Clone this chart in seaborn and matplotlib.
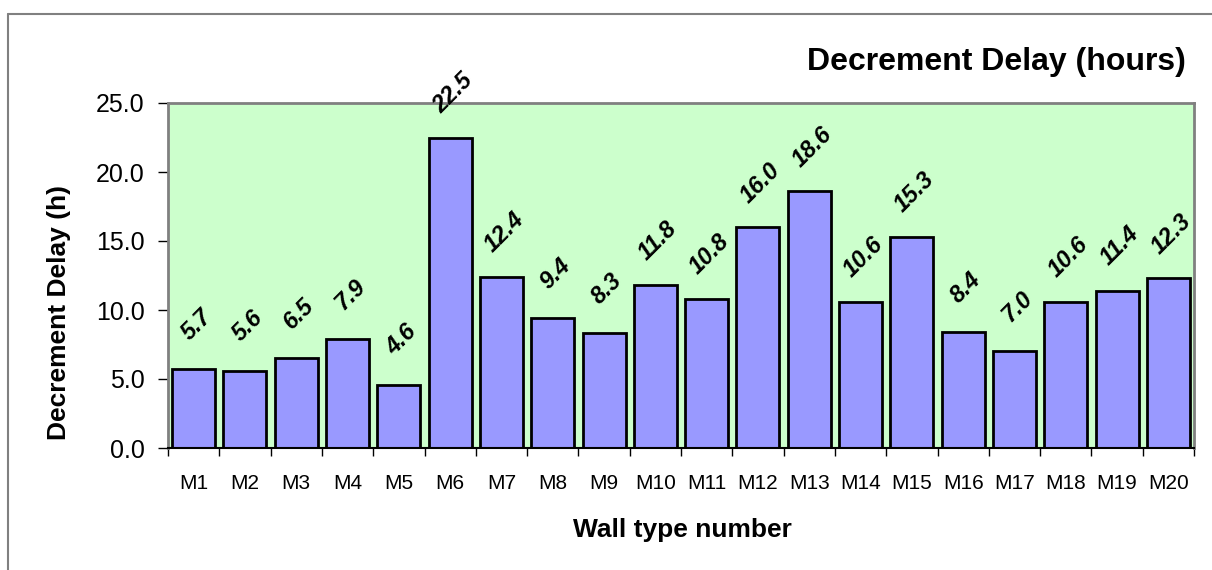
#decrement delay per wall type, bar chart with value labels

import pandas as pd
import seaborn as sns
import numpy as np
import matplotlib.pyplot as plt
from matplotlib.lines import Line2D

walls = ["M1", "M2", "M3", "M4", "M5", "M6", "M7", "M8", "M9", "M10",
         "M11", "M12", "M13", "M14", "M15", "M16", "M17", "M18", "M19", "M20"]
delays = [5.7, 5.6, 6.5, 7.9, 4.6, 22.5, 12.4, 9.4, 8.3, 11.8,
          10.8, 16.0, 18.6, 10.6, 15.3, 8.4, 7.0, 10.6, 11.4, 12.3]
y_ticks = [0, 5, 10, 15, 20, 25]

sns.set_style("white")
plt.rcParams['font.family'] = ['Liberation Sans', 'DejaVu Sans']
plt.rcParams['text.color'] = 'black'
plt.rcParams['xtick.color'] = 'black'
plt.rcParams['ytick.color'] = 'black'

df = pd.DataFrame({"wall": walls, "delay": delays})

fig = plt.figure(figsize=(12.12, 5.70), dpi=100)
ax = fig.add_axes([168/1212, 1-448/570, (1194-168)/1212, (448-103)/570])
ax.set_facecolor("#CCFFCC")

sns.barplot(data=df, x="wall", y="delay", color="#9999FF", saturation=1,
            edgecolor="black", linewidth=2, width=0.84, ax=ax)

#value labels, rotated like in the excel chart
for i, v in enumerate(df["delay"]):
	ax.annotate("%.1f" % v, xy=(i, v), xytext=(2, 32), textcoords="offset points",
	            ha="center", va="center", rotation=45, fontsize=17,
	            fontweight="bold", fontstyle="italic", color="black", annotation_clip=False)

ax.set_xlim(-0.5, len(walls)-0.5)
ax.set_ylim(0, 25)
ax.set_yticks(y_ticks)
ax.set_yticklabels(["%.1f" % t for t in y_ticks])
ax.tick_params(axis="y", left=True, length=7, width=1, color="black", pad=10, labelsize=18, labelcolor="black")

#labels at centres, tick marks at boundaries
ax.set_xticks(np.arange(len(walls)))
ax.set_xticks(np.arange(len(walls)+1)-0.5, minor=True)
ax.tick_params(axis="x", which="major", length=0, pad=19, labelsize=15, labelcolor="black")
ax.tick_params(axis="x", which="minor", bottom=True, length=6, width=1, color="black")

for s in ["top", "right", "left"]:
	ax.spines[s].set_color("#808080")
	ax.spines[s].set_linewidth(2)
ax.spines["bottom"].set_color("black")
ax.spines["bottom"].set_linewidth(1.5)

ax.set_xlabel("")
ax.set_ylabel("")
fig.text(682/1212, 1-530/570, "Wall type number", ha="center", va="center",
         fontsize=19, fontweight="bold")
fig.text(59/1212, 1-312/570, "Decrement Delay (h)", ha="center", va="center",
         rotation=90, fontsize=19, fontweight="bold")
fig.text(1186/1212, 1-62/570, "Decrement Delay (hours)", ha="right", va="center",
         fontsize=23, fontweight="bold")

#outer chart frame (cut off at right and bottom)
fig.add_artist(Line2D([8/1212, 8/1212], [0, 1-14/570], color="#808080", lw=1.5))
fig.add_artist(Line2D([8/1212, 1], [1-14/570, 1-14/570], color="#808080", lw=1.5))

plt.savefig("out.png", dpi=100)
